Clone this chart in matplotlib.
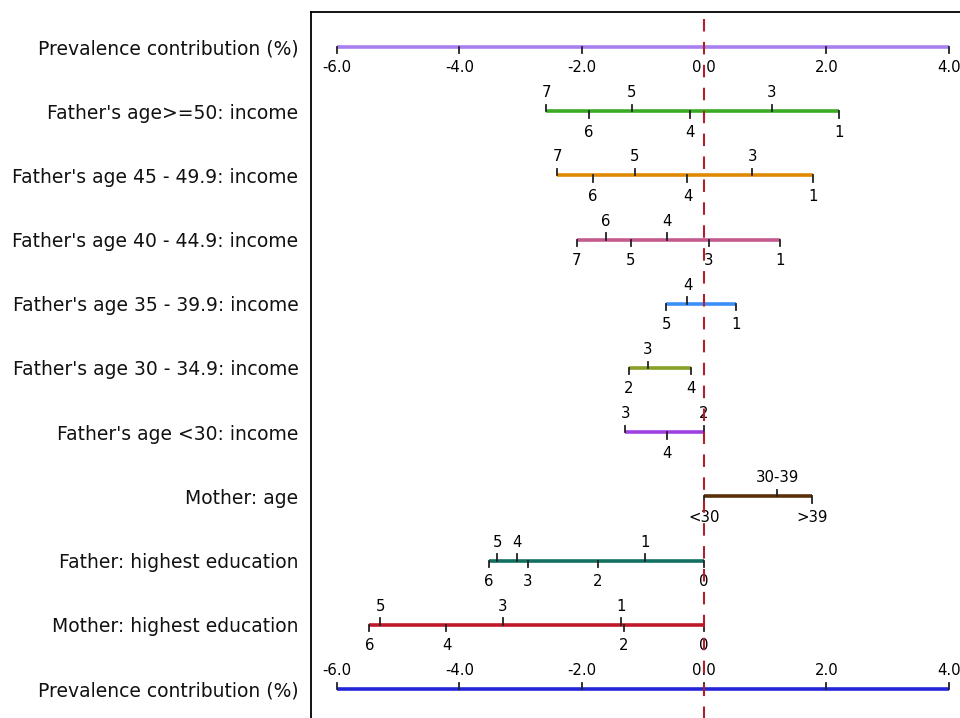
import matplotlib
matplotlib.use("Agg")
import matplotlib.pyplot as plt

# Row labels, top to bottom
row_labels = [
    "Prevalence contribution (%)",
    "Father's age>=50: income",
    "Father's age 45 - 49.9: income",
    "Father's age 40 - 44.9: income",
    "Father's age 35 - 39.9: income",
    "Father's age 30 - 34.9: income",
    "Father's age <30: income",
    "Mother: age",
    "Father: highest education",
    "Mother: highest education",
    "Prevalence contribution (%)",
]

# Points scale (percentage contribution)
scale_ticks = [-6.0, -4.0, -2.0, 0.0, 2.0, 4.0]

# Category positions on the points scale: (level, value, label above?)
age50_levels = ["7", "6", "5", "4", "3", "1"]
age50_values = [-2.58, -1.88, -1.18, -0.23, 1.11, 2.21]
age50_above = [True, False, True, False, True, False]

age45_levels = ["7", "6", "5", "4", "3", "1"]
age45_values = [-2.40, -1.82, -1.13, -0.27, 0.79, 1.79]
age45_above = [True, False, True, False, True, False]

age40_levels = ["7", "6", "5", "4", "3", "1"]
age40_values = [-2.08, -1.61, -1.20, -0.61, 0.08, 1.25]
age40_above = [False, True, False, True, False, False]

age35_levels = ["5", "4", "1"]
age35_values = [-0.62, -0.27, 0.52]
age35_above = [False, True, False]

age30_levels = ["2", "3", "4"]
age30_values = [-1.23, -0.92, -0.21]
age30_above = [False, True, False]

ageU30_levels = ["3", "4", "2"]
ageU30_values = [-1.29, -0.60, 0.0]
ageU30_above = [True, False, True]

mage_levels = ["<30", "30-39", ">39"]
mage_values = [0.0, 1.20, 1.77]
mage_above = [False, True, False]

fedu_levels = ["6", "5", "4", "3", "2", "1", "0"]
fedu_values = [-3.52, -3.38, -3.06, -2.88, -1.74, -0.96, 0.0]
fedu_above = [False, True, True, False, False, True, False]

medu_levels = ["6", "5", "4", "3", "2", "1", "0"]
medu_values = [-5.47, -5.29, -4.21, -3.29, -1.31, -1.36, 0.0]
medu_above = [False, True, False, True, False, True, False]

variables = [
    (age50_levels, age50_values, age50_above, "#3cab24"),
    (age45_levels, age45_values, age45_above, "#e08a00"),
    (age40_levels, age40_values, age40_above, "#c45a90"),
    (age35_levels, age35_values, age35_above, "#3a90f8"),
    (age30_levels, age30_values, age30_above, "#88a028"),
    (ageU30_levels, ageU30_values, ageU30_above, "#a040e0"),
    (mage_levels, mage_values, mage_above, "#5a3008"),
    (fedu_levels, fedu_values, fedu_above, "#127060"),
    (medu_levels, medu_values, medu_above, "#c0182a"),
]

W, H = 960, 718
fig = plt.figure(figsize=(W / 100, H / 100), dpi=100)

# Axes frame runs off the right and bottom edges of the figure
ax_l, ax_r, ax_t, ax_b = 311, 980, 12, 730
ax = fig.add_axes([ax_l / W, 1 - ax_b / H, (ax_r - ax_l) / W, (ax_b - ax_t) / H])

px_per_unit = 61.17
x0_px = 704
ax.set_xlim((ax_l - x0_px) / px_per_unit, (ax_r - x0_px) / px_per_unit)
row0_px, row_step = 47, 64.2
ax.set_ylim((ax_b - row0_px) / row_step, (ax_t - row0_px) / row_step)

for s in ax.spines.values():
    s.set_linewidth(1.3)
    s.set_color("black")

ax.set_xticks([])
ax.set_yticks(range(len(row_labels)))
ax.set_yticklabels(row_labels, fontsize=13.5, color="#111111")
ax.tick_params(axis="y", length=0, pad=9)

lw = 2.6
tick_h = 0.1
label_fs = 10.7
tick_color = "#222222"
off_up = 0.17
off_dn = 0.21

# Reference line at zero contribution
ax.axvline(0, color="#b0202a", lw=1.5, ls=(0, (6, 5)), zorder=5)

# Top points scale: ticks and labels below the line
y = 0
ax.plot([scale_ticks[0], scale_ticks[-1]], [y, y], color="#a97ff0", lw=lw, solid_capstyle="butt", zorder=2)
for v in scale_ticks:
    ax.plot([v, v], [y, y + tick_h], color=tick_color, lw=1.3, zorder=3)
    ax.text(v, y + off_dn, f"{v:.1f}", ha="center", va="top", fontsize=label_fs)

# Category axes
for i, (levels, values, above, color) in enumerate(variables, start=1):
    ax.plot([min(values), max(values)], [i, i], color=color, lw=lw, solid_capstyle="butt", zorder=2)
    for lab, v, up in zip(levels, values, above):
        if up:
            ax.plot([v, v], [i, i - tick_h], color=tick_color, lw=1.3, zorder=3)
            ax.text(v, i - off_up, lab, ha="center", va="bottom", fontsize=label_fs)
        else:
            ax.plot([v, v], [i, i + tick_h], color=tick_color, lw=1.3, zorder=3)
            ax.text(v, i + off_dn, lab, ha="center", va="top", fontsize=label_fs)

# Bottom points scale: ticks and labels above the line
y = len(row_labels) - 1
ax.plot([scale_ticks[0], scale_ticks[-1]], [y, y], color="#2424d8", lw=lw, solid_capstyle="butt", zorder=2)
for v in scale_ticks:
    ax.plot([v, v], [y, y - tick_h], color=tick_color, lw=1.3, zorder=3)
    ax.text(v, y - off_up, f"{v:.1f}", ha="center", va="bottom", fontsize=label_fs)

fig.savefig("out.png", dpi=100)
